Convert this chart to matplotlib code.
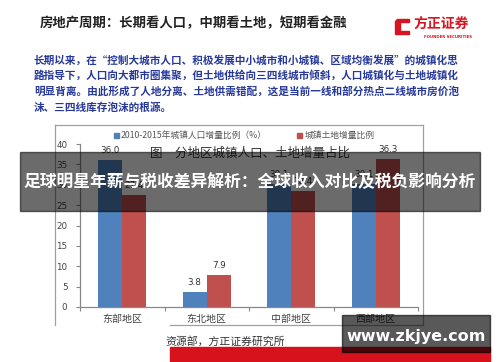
import numpy as np
import matplotlib
matplotlib.use('Agg')
import matplotlib.pyplot as plt
from matplotlib.patches import Rectangle, Polygon
from matplotlib.lines import Line2D

plt.rcParams['font.family'] = ['Noto Sans CJK SC', 'DejaVu Sans']

# 数据
regions = ['东部地区', '东北地区', '中部地区', '西部地区']
pop_share = [36.0, 3.8, 30.1, 30.1]     # 2010-2015年城镇人口增量比例（%）
land_share = [27.4, 7.9, 28.4, 36.3]    # 城镇土地增量比例
yticks = [0, 5, 10, 15, 20, 25, 30, 35, 40]

W, H = 500, 362
fig = plt.figure(figsize=(5, 3.62), dpi=100)
fig.patch.set_facecolor('white')


def fx(px):
    return px / W


def fy(py):
    return 1 - py / H


# 页面标题
fig.text(fx(40), fy(23), '房地产周期：长期看人口，中期看土地，短期看金融',
         fontsize=9.6, fontweight='bold', color='#222222', va='center')

# 方正证券 logo
fig.patches.append(Polygon([[fx(397), fy(19)], [fx(409), fy(19)], [fx(409), fy(22)],
                            [fx(400), fy(22)], [fx(400), fy(31)], [fx(409), fy(31)],
                            [fx(409), fy(34)], [fx(395), fy(34)], [fx(395), fy(21)]],
                           closed=True, transform=fig.transFigure, color='#d7141f'))
fig.text(fx(413), fy(24), '方正证券', fontsize=10, fontweight='bold',
         color='#d7141f', va='center')
fig.text(fx(472), fy(37), 'FOUNDER SECURITIES', fontsize=2.8, fontweight='bold',
         color='#d7141f', va='center', ha='right', family='DejaVu Sans')

# 正文
para = ['长期以来，在“控制大城市人口、积极发展中小城市和小城镇、区域均衡发展”的城镇化思',
        '路指导下，人口向大都市圈集聚，但土地供给向三四线城市倾斜，人口城镇化与土地城镇化',
        '明显背离。由此形成了人地分离、土地供需错配，这是当前一线和部分热点二线城市房价泡',
        '沫、三四线库存泡沫的根源。']
for i, line in enumerate(para):
    fig.text(fx(34), fy(60 + i * 15.7), line, fontsize=7.65, fontweight='bold',
             color='#26389a', va='center')

# 图表外框
frame_col = '#a0a0a0'
for xs, ys in [([55, 423], [125, 125]), ([55, 55], [125, 325]),
               ([423, 423], [125, 325]), ([170, 423], [325, 325])]:
    fig.lines.append(Line2D([fx(v) for v in xs], [fy(v) for v in ys],
                            transform=fig.transFigure, color=frame_col, lw=0.9))

# 图例和图表标题
fig.patches.append(Rectangle((fx(114), fy(138)), fx(5), fy(0) - fy(5),
                             transform=fig.transFigure, color='#4f81bd'))
fig.text(fx(121), fy(135), '2010-2015年城镇人口增量比例（%）', fontsize=6.3,
         color='#555555', va='center')
fig.patches.append(Rectangle((fx(297), fy(138)), fx(5), fy(0) - fy(5),
                             transform=fig.transFigure, color='#c0504d'))
fig.text(fx(305), fy(135), '城镇土地增量比例', fontsize=6.3,
         color='#555555', va='center')
fig.text(fx(250), fy(153), '图　分地区城镇人口、土地增量占比', fontsize=9,
         color='#333333', va='center', ha='center')

# 柱状图
ax = fig.add_axes([fx(80), fy(307), fx(418) - fx(80), fy(144) - fy(307)])
ax.set_facecolor('none')
x = np.arange(len(regions))
w = 0.285
b1 = ax.bar(x - w / 2, pop_share, w, color='#4f81bd')
b2 = ax.bar(x + w / 2, land_share, w, color='#c0504d')
for bars, vals in [(b1, pop_share), (b2, land_share)]:
    for r, v in zip(bars, vals):
        ax.annotate(f'{v:.1f}', (r.get_x() + r.get_width() / 2, v),
                    xytext=(0, 3.5), textcoords='offset points',
                    ha='center', va='bottom', fontsize=6.3, color='#333333',
                    family='DejaVu Sans')

ax.set_xlim(-0.5, 3.5)
ax.set_ylim(0, 40)
ax.set_yticks(yticks)
ax.set_yticklabels([str(t) for t in yticks], fontsize=6.3, color='#444444',
                   family='DejaVu Sans')
ax.set_xticks(np.arange(-0.5, 4, 1))
ax.set_xticklabels([])
ax.tick_params(axis='y', length=3, width=0.8, color='#888888', pad=6)
ax.tick_params(axis='x', length=3, width=0.8, color='#888888')
for i, name in enumerate(regions):
    ax.text(i, -1.6, name, ha='center', va='top', fontsize=7.2, color='#444444')
for s in ['top', 'right']:
    ax.spines[s].set_visible(False)
for s in ['left', 'bottom']:
    ax.spines[s].set_color('#888888')
    ax.spines[s].set_linewidth(0.9)

# 资料来源
fig.text(fx(165), fy(341), '资源部，方正证券研究所', fontsize=7.8,
         color='#333333', va='center')

# 底部红条
fig.patches.append(Rectangle((fx(170), 0), fx(490) - fx(170), fy(347),
                             transform=fig.transFigure, color='#d8121c', zorder=1))

# 半透明标题条
fig.patches.append(Rectangle((fx(20), fy(211)), fx(480) - fx(20), fy(152) - fy(211),
                             transform=fig.transFigure, color='black', alpha=0.58,
                             zorder=5))
fig.text(fx(250), fy(182), '足球明星年薪与税收差异解析：全球收入对比及税负影响分析',
         fontsize=12.1, fontweight='bold', color='white', ha='center',
         va='center', zorder=6)

# 水印
fig.patches.append(Rectangle((fx(342), fy(352)), fx(490) - fx(342), fy(315) - fy(352),
                             transform=fig.transFigure, color='black', alpha=0.65,
                             zorder=5))
fig.text(fx(416), fy(336), 'www.zkjye.com', fontsize=11.5, fontweight='bold',
         color='white', ha='center', va='center', zorder=6, family='DejaVu Sans')

fig.savefig('out.png', dpi=100)
